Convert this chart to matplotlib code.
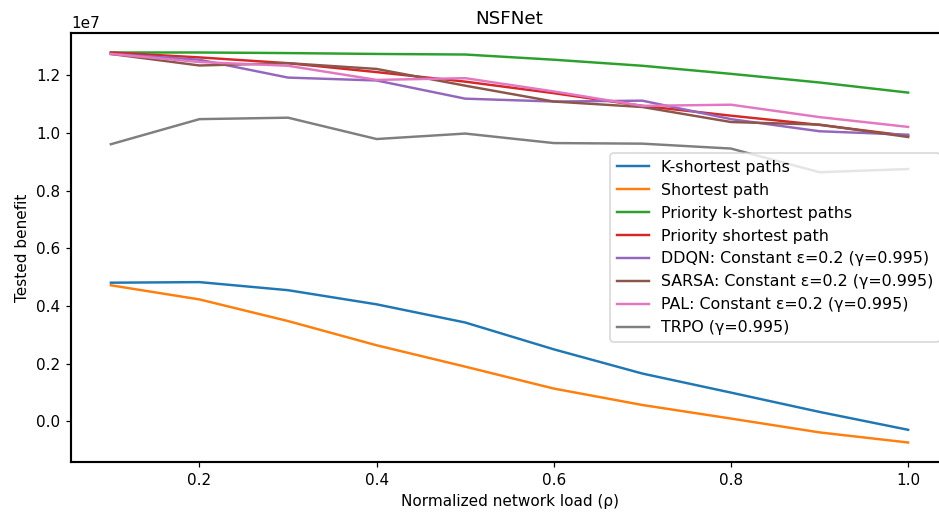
import matplotlib
matplotlib.use("Agg")
from matplotlib import pyplot as plt

load = [0.1, 0.2, 0.3, 0.4, 0.5, 0.6, 0.7, 0.8, 0.9, 1.0]

k_shortest = [0.481, 0.483, 0.455, 0.406, 0.343, 0.250, 0.166, 0.100, 0.033, -0.029]
shortest = [0.472, 0.423, 0.348, 0.264, 0.190, 0.114, 0.057, 0.010, -0.038, -0.073]
prio_k_shortest = [1.279, 1.279, 1.277, 1.274, 1.272, 1.254, 1.233, 1.205, 1.175, 1.140]
prio_shortest = [1.279, 1.262, 1.242, 1.211, 1.178, 1.138, 1.094, 1.060, 1.028, 0.990]
ddqn = [1.274, 1.254, 1.192, 1.182, 1.119, 1.109, 1.112, 1.048, 1.006, 0.994]
sarsa = [1.274, 1.234, 1.242, 1.222, 1.164, 1.109, 1.090, 1.038, 1.029, 0.986]
pal = [1.274, 1.246, 1.233, 1.184, 1.190, 1.144, 1.094, 1.098, 1.055, 1.021]
trpo = [0.961, 1.048, 1.053, 0.979, 0.998, 0.965, 0.963, 0.946, 0.864, 0.875]

series = [
    ("K-shortest paths", k_shortest),
    ("Shortest path", shortest),
    ("Priority k-shortest paths", prio_k_shortest),
    ("Priority shortest path", prio_shortest),
    ("DDQN: Constant ε=0.2 (γ=0.995)", ddqn),
    ("SARSA: Constant ε=0.2 (γ=0.995)", sarsa),
    ("PAL: Constant ε=0.2 (γ=0.995)", pal),
    ("TRPO (γ=0.995)", trpo),
]


def plot():
    dpi = 110
    plt.rcParams.update({"font.size": 10, "axes.linewidth": 1.4})
    fig = plt.figure(figsize=(939 / dpi, 512 / dpi), dpi=dpi)
    ax = fig.add_axes([71 / 939, 1 - 462 / 512, (948 - 71) / 939, (462 - 33) / 512])
    for label, values in series:
        ax.plot(load, [v * 1e7 for v in values], label=label, linewidth=1.6)
    ax.set_title("NSFNet")
    ax.set_xlabel("Normalized network load (ρ)")
    ax.set_ylabel("Tested benefit")
    ax.set_xticks([0.2, 0.4, 0.6, 0.8, 1.0])
    ax.legend(loc="center right", fontsize=10.4)
    fig.savefig("out.png", dpi=dpi)
    plt.close(fig)


if __name__ == "__main__":
    plot()
